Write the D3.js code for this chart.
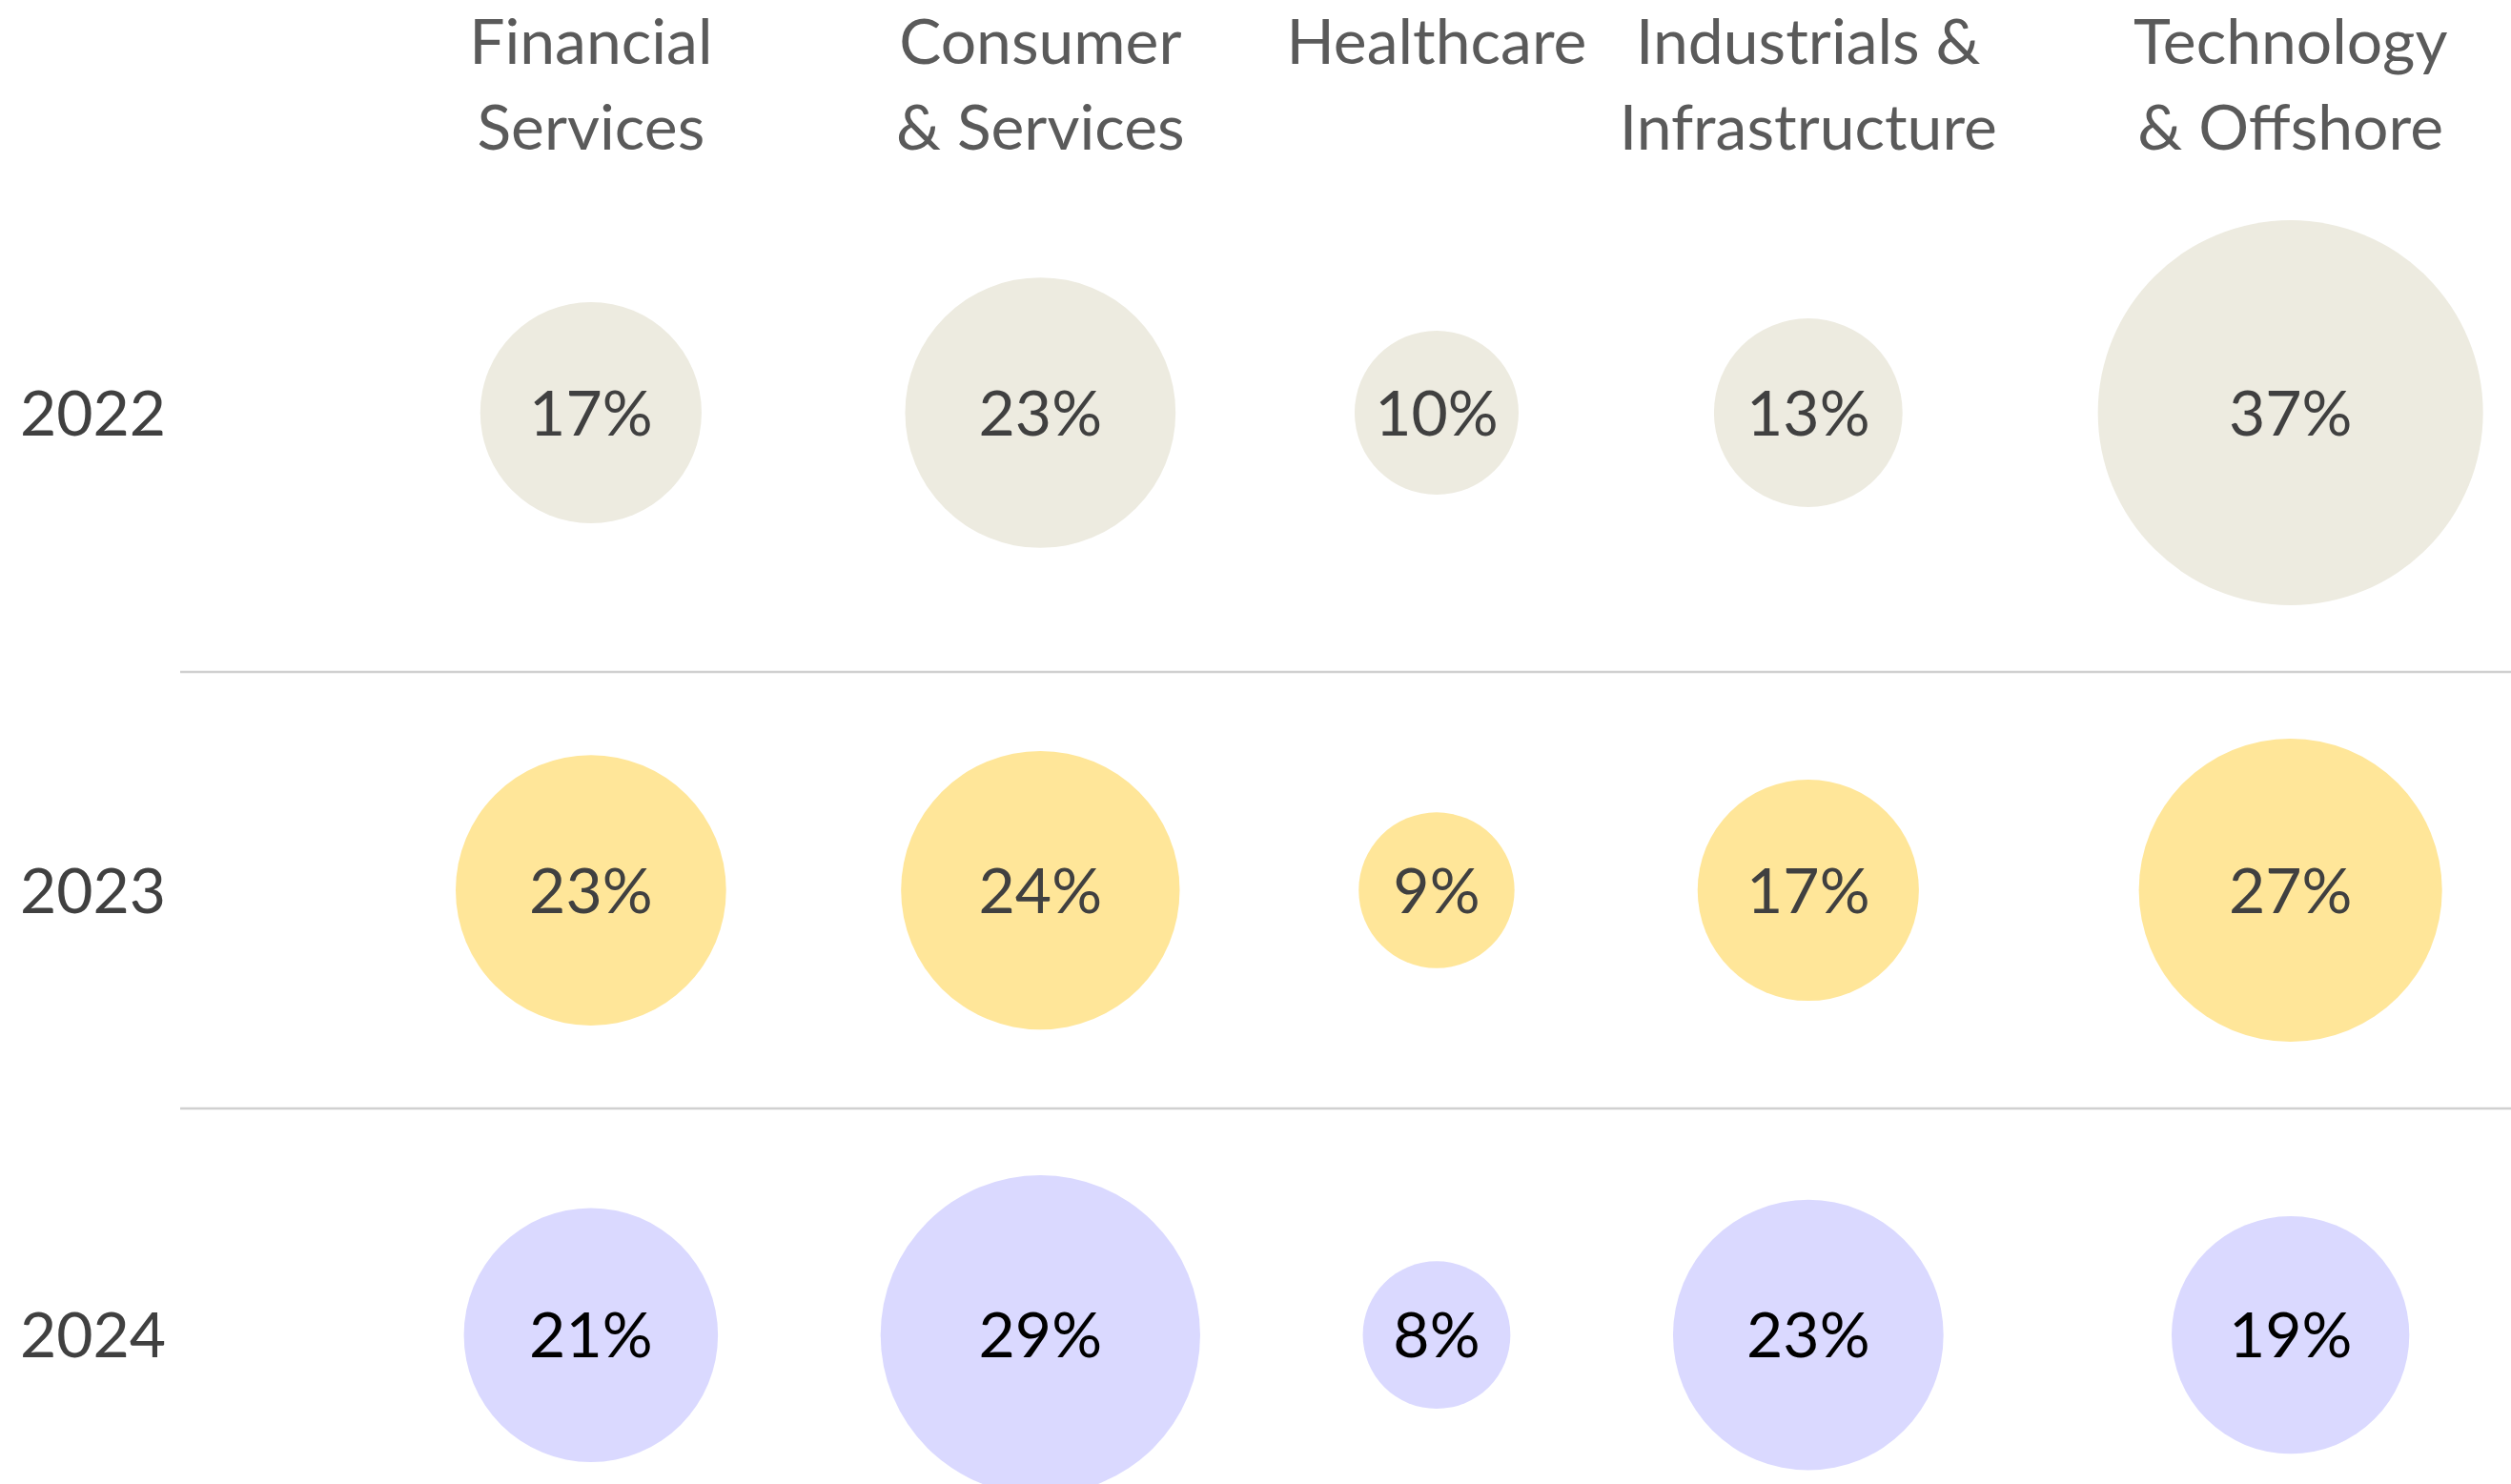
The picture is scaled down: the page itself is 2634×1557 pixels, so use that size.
<!DOCTYPE html>
<html>
<head>
<meta charset="utf-8">
<script src="https://cdn.jsdelivr.net/npm/d3@7"></script>
<style>
  html, body { margin: 0; padding: 0; background: #fff; }
  svg { display: block; }
  text { font-family: Lato, "Open Sans", sans-serif; }
</style>
</head>
<body>
<svg id="chart"></svg>
<script>
// data
var years = ["2022", "2023", "2024"];
var sectors = ["Financial Services", "Consumer & Services", "Healthcare", "Industrials & Infrastructure", "Technology & Offshore"];
var sectorLines = [
  ["Financial", "Services"],
  ["Consumer", "& Services"],
  ["Healthcare"],
  ["Industrials &", "Infrastructure"],
  ["Technology", "& Offshore"]
];
var share2022 = [17, 23, 10, 13, 37];
var share2023 = [23, 24, 9, 17, 27];
var share2024 = [21, 29, 8, 23, 19];
var shares = [share2022, share2023, share2024];

var fills = ["#edebe0", "#ffe699", "#dad9ff"];
var labelColors = ["#404040", "#404040", "#000000"];

var width = 2634;
var height = 1557;

var svg = d3.select("#chart")
  .attr("width", width)
  .attr("height", height);

// bubble size
var r = d3.scaleLinear()
  .domain([10, 37])
  .range([86, 202]);

// columns: each one is as wide as its biggest bubble plus a gap
var colGap = 162;
var colLeft = 397;
var colCenters = [];
var cx = colLeft;
sectors.forEach(function (s, j) {
  var maxR = d3.max(shares, function (row) { return r(row[j]); });
  colCenters.push(cx + colGap / 2 + maxR);
  cx += 2 * maxR + colGap;
});
var x = d3.scaleOrdinal().domain(sectors).range(colCenters);

// rows: same idea vertically
var rowPad = 70;
var rowTop = 161;
var rowCenters = [];
var rowEdges = [];
var ry = rowTop;
years.forEach(function (yr, i) {
  var maxR = d3.max(shares[i], function (v) { return r(v); });
  rowCenters.push(ry + rowPad + maxR);
  ry += 2 * (maxR + rowPad);
  rowEdges.push(ry);
});
var y = d3.scaleOrdinal().domain(years).range(rowCenters);

// separators between rows
svg.append("g")
  .selectAll("line")
  .data(rowEdges.slice(0, -1))
  .enter().append("line")
  .attr("x1", 189)
  .attr("x2", width)
  .attr("y1", function (d) { return d; })
  .attr("y2", function (d) { return d; })
  .attr("stroke", "#d0d0d0")
  .attr("stroke-width", 2.5);

// column headers
var header = svg.append("g").attr("class", "headers")
  .selectAll("text")
  .data(sectors)
  .enter().append("text")
  .attr("x", function (d) { return x(d); })
  .attr("y", 67)
  .attr("text-anchor", "middle")
  .attr("font-size", 66)
  .attr("fill", "#5a5a5a");

header.selectAll("tspan")
  .data(function (d, j) { return sectorLines[j]; })
  .enter().append("tspan")
  .attr("x", function () { return x(d3.select(this.parentNode).datum()); })
  .attr("dy", function (d, k) { return k === 0 ? 0 : 90; })
  .text(function (d) { return d; });

// row labels
svg.append("g")
  .selectAll("text")
  .data(years)
  .enter().append("text")
  .attr("x", 21)
  .attr("y", function (d) { return y(d); })
  .attr("dy", "0.36em")
  .attr("font-size", 66)
  .attr("fill", "#404040")
  .text(function (d) { return d; });

// bubbles
var rows = svg.append("g")
  .selectAll("g")
  .data(years)
  .enter().append("g")
  .attr("class", "row");

var cells = rows.selectAll("g")
  .data(function (yr, i) {
    return sectors.map(function (s, j) {
      return { year: yr, row: i, sector: s, value: shares[i][j] };
    });
  })
  .enter().append("g");

cells.append("circle")
  .attr("cx", function (d) { return x(d.sector); })
  .attr("cy", function (d) { return y(d.year); })
  .attr("r", function (d) { return r(d.value); })
  .attr("fill", function (d) { return fills[d.row]; });

cells.append("text")
  .attr("x", function (d) { return x(d.sector); })
  .attr("y", function (d) { return y(d.year); })
  .attr("dy", "0.36em")
  .attr("text-anchor", "middle")
  .attr("font-size", 66)
  .attr("fill", function (d) { return labelColors[d.row]; })
  .text(function (d) { return d.value + "%"; });
</script>
</body>
</html>
